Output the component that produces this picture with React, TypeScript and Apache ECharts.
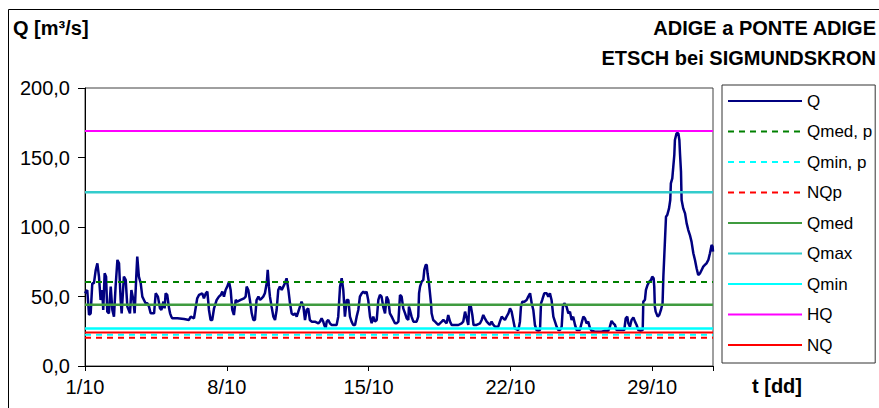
import React, { useEffect, useRef } from 'react';
import * as echarts from 'echarts';

// Discharge Q: time in days since 1/10 00:00, value in m3/s
const qDays = [
  0.0, 0.11, 0.20, 0.28, 0.36, 0.44, 0.53, 0.61, 0.69, 0.77, 0.85, 0.90, 0.97, 1.04, 1.10, 1.18, 1.27, 1.35, 1.43, 1.51,
  1.60, 1.68, 1.76, 1.81, 1.92, 2.01, 2.09, 2.22, 2.29, 2.39, 2.45, 2.53, 2.58, 2.66, 2.75, 2.83, 2.91, 2.99, 3.08, 3.16,
  3.24, 3.41, 3.49, 3.60, 3.70, 3.77, 3.87, 3.93, 3.98, 4.06, 4.15, 4.20, 4.26, 4.31, 4.56, 4.89, 5.13, 5.22, 5.38, 5.46,
  5.54, 5.63, 5.79, 5.87, 5.96, 6.04, 6.12, 6.20, 6.28, 6.37, 6.50, 6.61, 6.70, 6.78, 6.86, 6.94, 7.02, 7.11, 7.19, 7.27,
  7.35, 7.44, 7.52, 7.68, 7.85, 7.93,
  7.98, 8.06, 8.14, 8.23, 8.31, 8.39, 8.47, 8.56, 8.64, 8.72, 8.80, 8.88, 8.97, 9.02, 9.08, 9.13, 9.21, 9.30, 9.38, 9.46,
  9.54, 9.62, 9.71, 9.79, 9.87, 9.95, 10.04, 10.12, 10.20, 10.28, 10.37, 10.45, 10.53, 10.61, 10.69, 10.78, 10.86, 10.94, 11.02, 11.10,
  11.19, 11.35, 11.52, 11.60, 11.68, 11.76, 11.81, 11.88, 11.93, 12.01, 12.09, 12.17, 12.34, 12.42, 12.50, 12.59, 12.67, 12.75, 12.83, 12.92,
  13.00, 13.08, 13.16, 13.24, 13.33, 13.41, 13.49, 13.57, 13.66, 13.74, 13.82, 13.90, 13.98, 14.07, 14.15, 14.23, 14.31, 14.40, 14.48, 14.56,
  14.64, 14.72, 14.81, 14.89, 14.97, 15.05, 15.14, 15.22, 15.30, 15.38, 15.47, 15.55, 15.63, 15.71,
  15.80, 15.88, 15.96, 15.99, 16.04, 16.12, 16.21, 16.37, 16.45, 16.49, 16.54, 16.62, 16.70, 16.75, 16.82, 16.87, 16.91, 16.98, 17.03, 17.08,
  17.11, 17.19, 17.28, 17.36, 17.44, 17.52, 17.61, 17.69, 17.77, 17.85, 17.93, 18.02, 18.10, 18.26, 18.43, 18.59, 18.67, 18.76, 18.84, 18.92,
  18.97, 19.05, 19.12, 19.18, 19.33, 19.50, 19.58, 19.66, 19.74, 19.83, 19.91, 19.99, 20.07, 20.16, 20.24, 20.40, 20.48, 20.57, 20.65, 20.73,
  20.81, 20.90, 20.98, 21.06, 21.14, 21.22, 21.31, 21.39, 21.47, 21.52, 21.59, 21.69, 21.80, 21.88, 21.97, 22.05, 22.13, 22.21, 22.29, 22.38,
  22.46, 22.51, 22.57, 22.67, 22.79, 22.87, 22.95, 23.03, 23.12, 23.20, 23.28, 23.36, 23.45, 23.53, 23.59, 23.66,
  23.77, 23.86, 23.94, 24.02, 24.10, 24.19, 24.27, 24.43, 24.51, 24.60, 24.68, 24.76, 24.84, 24.93, 25.01, 25.17, 25.34, 25.50, 25.67, 25.83,
  25.91, 25.99, 26.08, 26.16, 26.24, 26.32, 26.49, 26.62, 26.69, 26.77, 26.82, 26.90, 26.98, 27.07, 27.15, 27.23, 27.31, 27.44, 27.53, 27.56,
  27.64, 27.69, 27.77, 27.85, 27.94, 28.00, 28.07, 28.10, 28.13, 28.17, 28.27, 28.35, 28.43, 28.51, 28.55, 28.63, 28.68, 28.74, 28.83, 28.89,
  28.92, 28.99, 29.04, 29.09, 29.12, 29.20, 29.29, 29.34, 29.37, 29.42, 29.45, 29.53, 29.62, 29.70, 29.78, 29.86, 29.94, 30.03, 30.11, 30.19,
  30.27, 30.36, 30.44, 30.52, 30.60, 30.68, 30.77, 30.85, 30.93, 30.98, 31.0,
];
const qValues = [
  52.3, 54.7, 36.7, 37.9, 59.5, 59.5, 69.1, 73.9, 64.3, 47.5, 54.7, 40.3, 66.7, 64.3, 39.1, 37.9, 57.1, 40.3, 35.5, 57.1,
  76.3, 73.9, 47.5, 37.9, 64.3, 61.9, 42.7, 37.9, 54.7, 47.5, 37.9, 64.3, 78.7, 64.3, 59.5, 49.9, 47.5, 45.1, 45.1, 42.7,
  37.9, 37.9, 52.3, 49.9, 41.5, 40.3, 46.3, 41.5, 52.3, 51.1, 41.5, 37.9, 35.5, 34.3, 34.3, 33.8, 33.1, 35.5, 34.3, 41.5,
  48.7, 51.1, 52.3, 48.7, 52.3, 53.5, 40.3, 33.1, 33.1, 41.5, 47.5, 49.9, 51.1, 53.5, 49.9, 54.7, 57.1, 60.7, 54.7, 40.3,
  36.7, 47.5, 46.3, 47.5, 48.7, 49.9,
  57.1, 54.7, 47.5, 37.9, 33.1, 33.1, 47.5, 49.9, 47.5, 48.7, 49.9, 52.3, 59.5, 69.1, 57.1, 49.9, 42.7, 35.5, 33.1, 40.3,
  54.7, 57.1, 54.7, 57.1, 59.5, 63.1, 54.7, 45.1, 37.9, 36.7, 37.9, 35.5, 39.1, 42.7, 46.3, 42.7, 33.1, 40.3, 41.5, 33.1,
  31.9, 31.9, 30.7, 31.9, 34.3, 31.9, 29.5, 27.1, 31.9, 33.1, 30.7, 29.5, 29.5, 29.5, 35.5, 57.1, 63.1, 54.7, 35.5, 47.5,
  47.5, 35.5, 31.9, 29.5, 29.5, 35.5, 40.3, 49.9, 52.3, 53.5, 52.3, 53.5, 47.5, 35.5, 30.7, 35.5, 31.9, 33.1, 47.5, 51.1,
  49.9, 42.7, 37.9, 49.9, 47.5, 37.9, 35.5, 33.1, 30.7, 30.7, 31.9, 51.1, 49.9, 41.5,
  37.9, 34.3, 33.1, 42.7, 40.3, 35.5, 31.9, 31.9, 35.5, 52.3, 57.1, 60.7, 61.9, 69.1, 72.7, 72.7, 66.7, 59.5, 52.3, 45.1,
  37.9, 33.1, 31.9, 30.7, 29.5, 30.7, 31.9, 33.1, 31.9, 30.7, 36.7, 31.9, 29.5, 29.5, 29.5, 30.7, 31.9, 39.1, 34.3, 29.5,
  43.9, 42.7, 36.7, 29.5, 29.5, 30.7, 33.1, 36.7, 34.3, 31.9, 30.7, 29.5, 31.9, 29.5, 28.3, 28.3, 31.9, 35.5, 34.3, 33.1,
  35.5, 37.9, 41.5, 39.1, 33.1, 27.1, 26.4, 25.9, 31.9, 42.7, 46.3, 46.3, 47.5, 49.9, 52.3, 45.1, 40.3, 29.5, 25.9, 25.4,
  25.9, 45.1, 47.5, 52.3, 52.3, 49.9, 52.3, 47.5, 35.5, 31.9, 28.3, 25.9, 25.9, 28.3, 42.7, 45.1,
  42.7, 37.9, 39.1, 33.1, 35.5, 29.5, 25.9, 25.9, 30.7, 35.5, 34.3, 30.7, 31.9, 27.1, 25.4, 24.7, 24.7, 24.7, 25.4, 25.4,
  28.3, 32.4, 30.7, 29.5, 25.9, 25.9, 25.9, 25.9, 34.3, 35.5, 30.7, 28.3, 33.1, 35.0, 31.9, 29.5, 25.9, 25.4, 25.9, 46.3,
  47.5, 54.7, 58.3, 60.7, 61.9, 64.3, 63.1, 57.1, 42.7, 39.1, 35.5, 36.7, 40.3, 45.1, 64.3, 90.7, 107.4, 108.6, 113.4, 119.4,
  131.4, 135.0, 143.4, 151.8, 162.6, 167.4, 167.4, 162.6, 153.0, 139.8, 119.4, 113.4, 109.8, 102.6, 97.8, 94.2, 89.5, 81.1, 76.3, 70.3,
  65.5, 66.7, 69.1, 71.5, 72.7, 73.9, 76.3, 81.1, 87.1, 85.9, 82.3,
];

// Reference discharges (m3/s)
const refNames = ['Qmed, p', 'Qmin, p', 'NQp', 'Qmed', 'Qmax', 'Qmin', 'HQ', 'NQ'];
const refValues = [60.5, 22.4, 20.4, 44.0, 125.0, 27.0, 169.0, 24.1];

const xTickLabels = ['1/10', '8/10', '15/10', '22/10', '29/10'];
const yTickLabels = ['0,0', '50,0', '100,0', '150,0', '200,0'];
const dayExtent = [0, 31];

const FONT = "'Liberation Sans', Arial, sans-serif";
const NO_FILL = 'rgba(0,0,0,0)';

const refStyles = [
  { color: '#008000', type: [6, 5], width: 2 },
  { color: '#00ffff', type: [6, 5], width: 2 },
  { color: '#ff0000', type: [6, 5], width: 2 },
  { color: '#3f9b3f', type: 'solid', width: 2.5 },
  { color: '#33cccc', type: 'solid', width: 2.5 },
  { color: '#00ffff', type: 'solid', width: 2.5 },
  { color: '#ff00ff', type: 'solid', width: 2 },
  { color: '#ff0000', type: 'solid', width: 2 },
];

export default function App() {
  const ref = useRef<HTMLDivElement>(null);
  useEffect(() => {
    if (!ref.current) return;
    const chart = echarts.init(ref.current, undefined, { renderer: 'svg' });
    const qSeries = {
      name: 'Q',
      type: 'line',
      symbol: 'none',
      showSymbol: false,
      data: qDays.map((d, i) => [d, qValues[i]]),
      lineStyle: { color: '#000080', width: 2.5 },
      itemStyle: { color: NO_FILL, borderWidth: 0 },
      z: 2,
    };
    const refSeries = refNames.map((n, i) => ({
      name: n,
      type: 'line',
      symbol: 'none',
      showSymbol: false,
      data: [[dayExtent[0], refValues[i]], [dayExtent[1], refValues[i]]],
      lineStyle: refStyles[i],
      itemStyle: { color: NO_FILL, borderWidth: 0 },
      z: 3,
    }));
    chart.setOption({
      animation: false,
      backgroundColor: '#fff',
      grid: {
        left: 85,
        top: 88,
        width: 628,
        height: 278,
        show: true,
        borderColor: '#404040',
        borderWidth: 1,
        backgroundColor: 'transparent',
      },
      xAxis: {
        type: 'value',
        min: dayExtent[0],
        max: dayExtent[1],
        interval: 7,
        axisLine: { show: true, lineStyle: { color: '#000', width: 1 } },
        axisTick: { show: true, length: 5, lineStyle: { color: '#000' } },
        splitLine: { show: false },
        axisLabel: {
          color: '#000',
          fontSize: 20,
          fontFamily: FONT,
          margin: 11,
          formatter: (v: number) => {
            const k = v / 7;
            return Number.isInteger(k) && k < xTickLabels.length ? xTickLabels[k] : '';
          },
        },
      },
      yAxis: {
        type: 'value',
        min: 0,
        max: 200,
        interval: 50,
        axisLine: { show: true, lineStyle: { color: '#000', width: 1 } },
        axisTick: { show: true, length: 7, lineStyle: { color: '#000' } },
        splitLine: { show: false },
        axisLabel: {
          color: '#000',
          fontSize: 20,
          fontFamily: FONT,
          margin: 15,
          formatter: (v: number) => yTickLabels[Math.round(v / 50)] ?? '',
        },
      },
      legend: {
        orient: 'vertical',
        left: 722,
        top: 85,
        padding: [7, 3, 9, 5],
        itemWidth: 74,
        itemHeight: 18,
        itemGap: 12.5,
        borderColor: '#333',
        borderWidth: 1,
        backgroundColor: '#fff',
        itemStyle: { color: NO_FILL, borderWidth: 0, opacity: 0 },
        textStyle: { fontSize: 17, color: '#000', fontFamily: FONT, lineHeight: 18 },
        data: ['Q', ...refNames],
      },
      graphic: [
        {
          type: 'rect',
          silent: true,
          shape: { x: 8.5, y: 9.5, width: 900, height: 420 },
          style: { fill: 'none', stroke: '#000', lineWidth: 1 },
        },
        {
          type: 'text',
          left: 13,
          top: 18,
          style: { text: 'Q [m³/s]', font: `bold 20px ${FONT}`, fill: '#000' },
        },
        {
          type: 'text',
          right: 3,
          top: 18,
          style: { text: 'ADIGE a PONTE ADIGE', font: `bold 20px ${FONT}`, fill: '#000', textAlign: 'right' },
        },
        {
          type: 'text',
          right: 3,
          top: 48,
          style: { text: 'ETSCH bei SIGMUNDSKRON', font: `bold 20px ${FONT}`, fill: '#000', textAlign: 'right' },
        },
        {
          type: 'text',
          left: 752,
          top: 376,
          style: { text: 't [dd]', font: `bold 20px ${FONT}`, fill: '#000' },
        },
      ],
      series: [qSeries, ...refSeries],
    });
    return () => chart.dispose();
  }, []);
  return (
    <div
      ref={ref}
      style={{ position: 'fixed', left: 0, top: 0, width: 879, height: 408, background: '#fff' }}
    />
  );
}
